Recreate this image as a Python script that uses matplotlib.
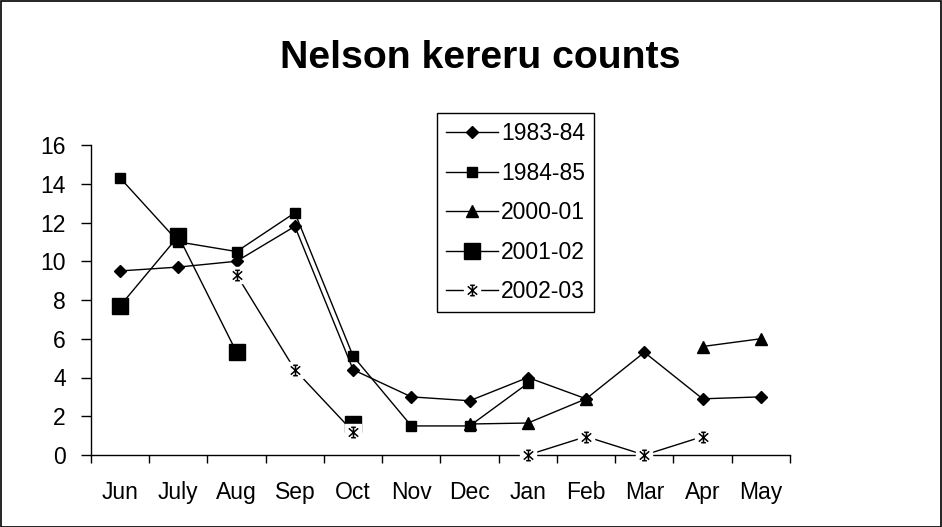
import numpy as np
import matplotlib
matplotlib.use('Agg')
import matplotlib.pyplot as plt
from matplotlib.lines import Line2D
from matplotlib.patches import Rectangle
from matplotlib.path import Path
from matplotlib.ticker import FixedLocator, NullFormatter, FixedFormatter

plt.rcParams['font.family'] = ['Liberation Sans', 'DejaVu Sans']

nan = np.nan
months = ['Jun', 'July', 'Aug', 'Sep', 'Oct', 'Nov', 'Dec', 'Jan', 'Feb', 'Mar', 'Apr', 'May']
labels = ['1983-84', '1984-85', '2000-01', '2001-02', '2002-03']
s1983 = [9.5, 9.7, 10.0, 11.8, 4.4, 3.0, 2.8, 4.0, 2.9, 5.3, 2.9, 3.0]
s1984 = [14.3, 11.0, 10.5, 12.5, 5.1, 1.5, 1.5, 3.7, nan, nan, nan, nan]
s2000 = [nan, nan, nan, nan, nan, nan, 1.6, 1.65, 2.9, nan, 5.6, 6.0]
s2001 = [7.7, 11.3, 5.3, nan, 1.6, nan, nan, nan, nan, nan, nan, nan]
s2002 = [nan, nan, 9.3, 4.4, 1.2, nan, nan, 0.0, 0.95, 0.0, 0.95, nan]
yticks = [0, 2, 4, 6, 8, 10, 12, 14, 16]

W, H = 942, 527
fig = plt.figure(figsize=(W / 100, H / 100), dpi=100)
ax = fig.add_axes([91 / W, 1 - 455 / H, (790 - 91) / W, (455 - 145) / H])

x = np.arange(len(months))

# asterisk marker path (x with vertical bar and small caps)
ast = Path(
    [(0, -1), (0, 1), (-0.9, -0.8), (0.9, 0.8), (-0.9, 0.8), (0.9, -0.8),
     (-0.45, 1), (0.45, 1), (-0.45, -1), (0.45, -1)],
    [Path.MOVETO, Path.LINETO] * 5)

lw = 1.0
h1, = ax.plot(x, s1983, color='k', lw=lw, marker='D', ms=6.5, mfc='k', mec='k', zorder=3)
h2, = ax.plot(x, s1984, color='k', lw=lw, marker='s', ms=7, mfc='k', mec='k', zorder=4)
h3, = ax.plot(x, s2000, color='k', lw=lw, marker='^', ms=8, mfc='k', mec='k', zorder=5)
h4, = ax.plot(x, s2001, color='k', lw=lw, marker='s', ms=11.5, mfc='k', mec='k', zorder=6)
h5a, = ax.plot(x, s2002, color='k', lw=lw, marker='s', ms=11, mfc='w', mec='w',
               zorder=7, clip_on=False)
h5b, = ax.plot(x, s2002, ls='none', marker=ast, ms=7.5, color='k', mew=1.1,
               zorder=8, clip_on=False)

ax.set_xlim(-0.5, len(months) - 0.5)
ax.set_ylim(0, 16)
ax.xaxis.set_major_locator(FixedLocator(np.arange(-0.5, len(months), 1.0)))
ax.xaxis.set_major_formatter(NullFormatter())
ax.xaxis.set_minor_locator(FixedLocator(x))
ax.xaxis.set_minor_formatter(FixedFormatter(months))
ax.tick_params(axis='x', which='major', direction='out', length=6, width=1, color='k')
ax.tick_params(axis='x', which='minor', length=0, pad=19, labelsize=16.5)
ax.set_yticks(yticks)
ax.set_yticklabels([str(v) for v in yticks])
ax.tick_params(axis='y', direction='out', length=7, width=1, pad=11, labelsize=16.5, color='k')
for s in ['top', 'right']:
    ax.spines[s].set_visible(False)
for s in ['left', 'bottom']:
    ax.spines[s].set_linewidth(1.0)
    ax.spines[s].set_color('k')

fig.text(480 / W, 1 - 68 / H, 'Nelson kereru counts', ha='center', va='baseline',
         fontsize=28.3, fontweight='bold')

leg = ax.legend([h1, h2, h3, h4, (h5a, h5b)], labels,
                loc='upper left', bbox_to_anchor=(437 / W, 1 - 113 / H),
                bbox_transform=fig.transFigure, borderaxespad=0,
                fontsize=16.5, numpoints=1, handlelength=2.27, handletextpad=0.13,
                borderpad=0.4, labelspacing=0.72, fancybox=False, shadow=False,
                framealpha=1, edgecolor='k')
leg.get_frame().set_linewidth(1.0)
leg.set_zorder(10)

fig.patches.append(Rectangle((0.5 / W, 0.5 / H), 1 - 1.5 / W, 1 - 1.5 / H,
                             transform=fig.transFigure, fill=False, edgecolor='k', lw=1.2))

fig.savefig('out.png', dpi=100)
